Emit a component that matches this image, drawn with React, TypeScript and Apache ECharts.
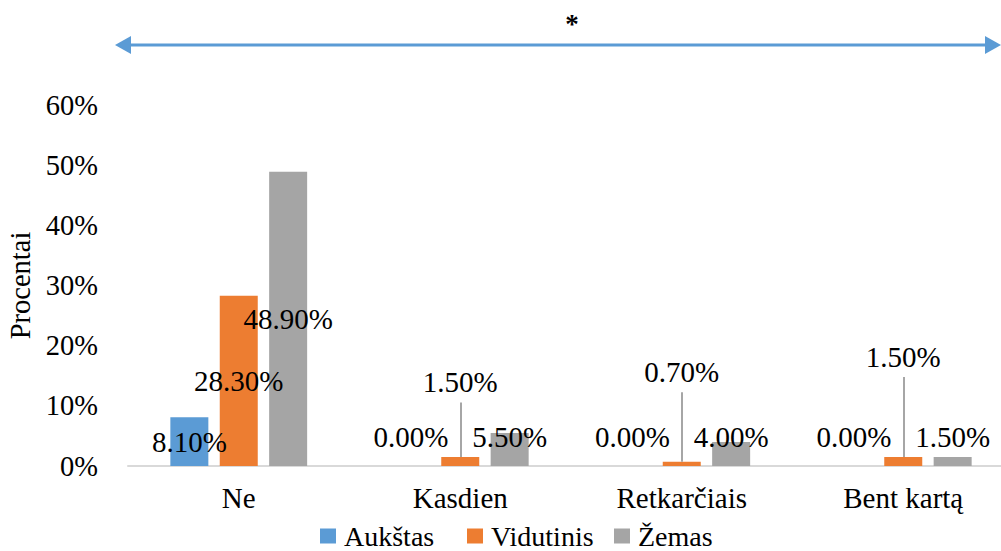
import React, { useEffect, useRef } from "react";
import * as echarts from "echarts";

const categories = ["Ne", "Kasdien", "Retkarčiais", "Bent kartą"];
const seriesNames = ["Aukštas", "Vidutinis", "Žemas"];
const aukstas = [8.1, 0.0, 0.0, 0.0];
const vidutinis = [28.3, 1.5, 0.7, 1.5];
const zemas = [48.9, 5.5, 4.0, 1.5];
const yTicks = [0, 10, 20, 30, 40, 50, 60];

const colors = ["#5b9bd5", "#ed7d31", "#a5a5a5"];
const FONT = "'Liberation Serif', 'Times New Roman', serif";
// how far (px) above the bar top the leader-lined labels sit (style, not data)
const liftedLabelDistance = [0, 60, 75, 85.5];

const GRID_TOP = 105;
const GRID_HEIGHT = 361;

const fmt = (v: number) => v.toFixed(2) + "%";

export default function App() {
  const ref = useRef<HTMLDivElement>(null);
  useEffect(() => {
    if (!ref.current) return;
    const chart = echarts.init(ref.current, null, { renderer: "svg" });

    const yMax = yTicks[yTicks.length - 1];
    const pxPerUnit = GRID_HEIGHT / (yMax - yTicks[0]);

    const baseLabel = {
      show: true,
      color: "#000",
      fontSize: 29,
      fontFamily: FONT,
      formatter: (p: any) => fmt(p.value),
    };

    const makeData = (vals: number[], kind: "normal" | "lifted") =>
      vals.map((v, i) => {
        if (i === 0) {
          return { value: v, label: { ...baseLabel, position: "inside" } };
        }
        if (kind === "lifted") {
          return {
            value: v,
            label: {
              ...baseLabel,
              position: "top",
              distance: liftedLabelDistance[i],
            },
          };
        }
        return {
          value: v,
          label: { ...baseLabel, position: "insideBottom", distance: 15 },
        };
      });

    const leaderLines = vidutinis
      .map((v, i) => ({ v, i }))
      .filter(({ i }) => i > 0)
      .map(({ v, i }) => [
        { coord: [categories[i], v] },
        { coord: [categories[i], v + (liftedLabelDistance[i] - 5.5) / pxPerUnit] },
      ]);

    const option: any = {
      animation: false,
      textStyle: { fontFamily: FONT },
      grid: {
        left: 128,
        top: GRID_TOP,
        width: 886,
        height: GRID_HEIGHT,
        outerBoundsMode: "none",
        containLabel: false,
      },
      legend: {
        left: 320,
        top: 522,
        padding: 0,
        itemWidth: 16,
        itemHeight: 15,
        itemGap: 10,
        icon: "rect",
        textStyle: {
          fontSize: 28,
          lineHeight: 24,
          width: 113,
          overflow: "none",
          fontFamily: FONT,
          color: "#000",
          padding: [0, 0, 0, 3],
        },
        data: seriesNames,
      },
      xAxis: {
        type: "category",
        data: categories,
        axisLine: { show: true, lineStyle: { color: "#d9d9d9", width: 2 } },
        axisTick: { show: false },
        axisLabel: { color: "#000", fontSize: 29, fontFamily: FONT, margin: 17 },
      },
      yAxis: {
        type: "value",
        min: yTicks[0],
        max: yMax,
        interval: 10,
        name: "Procentai",
        nameLocation: "middle",
        nameRotate: 90,
        nameGap: 92,
        nameTextStyle: { fontSize: 28.5, fontFamily: FONT, color: "#000" },
        axisLine: { show: false },
        axisTick: { show: false },
        splitLine: { show: false },
        axisLabel: {
          color: "#000",
          fontSize: 28.5,
          fontFamily: FONT,
          margin: 30,
          formatter: "{value}%",
        },
      },
      series: [
        {
          name: seriesNames[0],
          type: "bar",
          barWidth: 38,
          barGap: "30%",
          itemStyle: { color: colors[0] },
          data: makeData(aukstas, "normal"),
        },
        {
          name: seriesNames[1],
          type: "bar",
          barWidth: 38,
          barGap: "30%",
          itemStyle: { color: colors[1] },
          data: makeData(vidutinis, "lifted"),
          markLine: {
            silent: true,
            symbol: ["none", "none"],
            label: { show: false },
            lineStyle: { color: "#a6a6a6", width: 2, type: "solid" },
            emphasis: { disabled: true },
            data: leaderLines,
          },
        },
        {
          name: seriesNames[2],
          type: "bar",
          barWidth: 38,
          barGap: "30%",
          itemStyle: { color: colors[2] },
          data: makeData(zemas, "normal"),
        },
      ],
      graphic: [
        {
          type: "line",
          shape: { x1: 128, y1: 45, x2: 990, y2: 45 },
          style: { stroke: "#5b9bd5", lineWidth: 3 },
        },
        {
          type: "polygon",
          shape: { points: [[115, 45], [131, 36], [131, 54]] },
          style: { fill: "#5b9bd5" },
        },
        {
          type: "polygon",
          shape: { points: [[1001, 45], [985, 36], [985, 54]] },
          style: { fill: "#5b9bd5" },
        },
        {
          type: "text",
          x: 572,
          y: 24,
          style: {
            text: "*",
            fontSize: 27,
            fontWeight: "bold",
            fontFamily: FONT,
            fill: "#000",
            align: "center",
            verticalAlign: "middle",
          },
        },
      ],
    };

    chart.setOption(option);
    return () => chart.dispose();
  }, []);

  return (
    <div
      ref={ref}
      style={{ position: "absolute", left: 0, top: 0, width: 1001, height: 551 }}
    />
  );
}
